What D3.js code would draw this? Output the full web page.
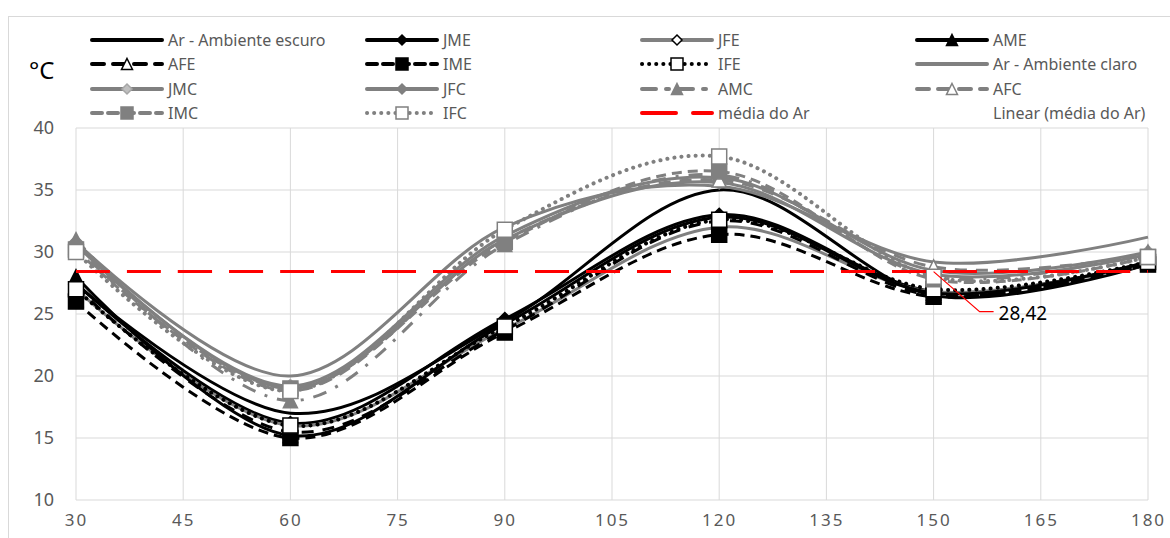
<!DOCTYPE html>
<html>
<head>
<meta charset="utf-8">
<script src="https://cdn.jsdelivr.net/npm/d3@7"></script>
<style>
  body { margin: 0; background: #fff; }
  svg text { font-family: "Noto Sans", "Open Sans", sans-serif; }
</style>
</head>
<body>
<div id="chart"></div>
<script>
// data
var minutes = [30, 60, 90, 120, 150, 180];
var arEscuro = [27.4, 17.0, 24.4, 35.0, 26.5, 29.0];
var jme = [27.5, 16.2, 24.6, 33.0, 26.8, 29.2];
var jfe = [27.0, 16.0, 23.8, 32.0, 26.8, 29.0];
var ame = [28.0, 15.2, 24.2, 32.8, 26.7, 29.2];
var afe = [27.2, 15.5, 23.7, 32.5, 26.5, 29.0];
var ime = [26.0, 15.0, 23.5, 31.4, 26.4, 29.0];
var ife = [27.0, 16.0, 24.0, 32.6, 27.0, 29.2];
var arClaro = [30.8, 20.0, 32.0, 35.3, 29.2, 31.2];
var jmc = [30.6, 19.2, 31.3, 36.0, 28.5, 30.0];
var jfc = [30.8, 19.0, 31.0, 35.6, 28.2, 29.8];
var amc = [31.0, 18.0, 30.6, 36.2, 28.0, 30.0];
var afc = [30.4, 18.8, 31.0, 35.8, 28.8, 29.8];
var imc = [30.2, 19.0, 30.8, 36.5, 27.8, 29.6];
var ifc = [30.0, 18.8, 31.8, 37.7, 28.0, 29.6];
var mediaAr = [28.42, 28.42, 28.42, 28.42, 28.42, 28.42];
var yTicks = [10, 15, 20, 25, 30, 35, 40];
var xTicks = [30, 45, 60, 75, 90, 105, 120, 135, 150, 165, 180];

var BLACK = "#000", GRAY = "#808080", RED = "#ff0000";

var series = [
  {name: "Ar - Ambiente escuro", values: arEscuro, color: BLACK, dash: null, marker: null},
  {name: "JME", values: jme, color: BLACK, dash: null, marker: "diamond", fill: BLACK, mstroke: BLACK},
  {name: "JFE", values: jfe, color: GRAY, dash: null, marker: "diamond", fill: "#fff", mstroke: BLACK},
  {name: "AME", values: ame, color: BLACK, dash: null, marker: "triangle", fill: BLACK, mstroke: BLACK},
  {name: "AFE", values: afe, color: BLACK, dash: "12,9", marker: "triangle", fill: "#fff", mstroke: BLACK},
  {name: "IME", values: ime, color: BLACK, dash: "10,6", marker: "square", fill: BLACK, mstroke: BLACK},
  {name: "IFE", values: ife, color: BLACK, dash: "0.1,7", cap: "round", marker: "square", fill: "#fff", mstroke: BLACK},
  {name: "Ar - Ambiente claro", values: arClaro, color: GRAY, dash: null, marker: null},
  {name: "JMC", values: jmc, color: GRAY, dash: null, marker: "diamond", fill: "#bfbfbf", mstroke: "#a6a6a6"},
  {name: "JFC", values: jfc, color: GRAY, dash: null, marker: "diamond", fill: GRAY, mstroke: GRAY},
  {name: "AMC", values: amc, color: GRAY, dash: "14,10,3,10", marker: "triangle", fill: GRAY, mstroke: GRAY},
  {name: "AFC", values: afc, color: GRAY, dash: "12,9", marker: "triangle", fill: "#fff", mstroke: GRAY},
  {name: "IMC", values: imc, color: GRAY, dash: "10,6", marker: "square", fill: GRAY, mstroke: GRAY},
  {name: "IFC", values: ifc, color: GRAY, dash: "0.1,7", cap: "round", marker: "square", fill: "#fff", mstroke: GRAY},
  {name: "média do Ar", values: mediaAr, color: RED, dash: "34,17", marker: null},
  {name: "Linear (média do Ar)", values: null, color: "none", dash: null, marker: null}
];

var W = 1170, H = 538;
var svg = d3.select("#chart").append("svg")
  .attr("width", W).attr("height", H);

// outer chart border
svg.append("rect")
  .attr("x", 8.5).attr("y", 16.5).attr("width", 1170).attr("height", 540)
  .attr("fill", "none").attr("stroke", "#d9d9d9");

var x = d3.scaleLinear().domain([30, 180]).range([76, 1148]);
var y = d3.scaleLinear().domain([10, 40]).range([500, 128]);

// gridlines
svg.append("g").selectAll("line.h").data(yTicks).enter().append("line")
  .attr("x1", x(30)).attr("x2", x(180))
  .attr("y1", function(d) { return y(d); }).attr("y2", function(d) { return y(d); })
  .attr("stroke", "#d9d9d9").attr("stroke-width", 1);
svg.append("g").selectAll("line.v").data(xTicks).enter().append("line")
  .attr("x1", function(d) { return x(d); }).attr("x2", function(d) { return x(d); })
  .attr("y1", y(10)).attr("y2", y(40))
  .attr("stroke", "#d9d9d9").attr("stroke-width", 1);

// axes labels
var yAxis = svg.append("g").attr("transform", "translate(" + x(30) + ",0)")
  .call(d3.axisLeft(y).tickValues(yTicks).tickSize(0).tickPadding(22));
yAxis.select(".domain").remove();
yAxis.selectAll("text").attr("font-size", 18).attr("fill", "#595959")
  .style("font-family", "'Noto Sans', sans-serif");

var xAxis = svg.append("g").attr("transform", "translate(0," + y(10) + ")")
  .call(d3.axisBottom(x).tickValues(xTicks).tickSize(0).tickPadding(14));
xAxis.select(".domain").remove();
xAxis.selectAll("text").attr("font-size", 17).attr("fill", "#595959")
  .attr("letter-spacing", 2)
  .style("font-family", "'Noto Sans', sans-serif");

svg.append("text").attr("x", 29).attr("y", 79).attr("font-size", 24)
  .attr("fill", "#000").text("°C");

var line = d3.line()
  .curve(d3.curveCardinal.tension(0))
  .x(function(d, i) { return x(minutes[i]); })
  .y(function(d) { return y(d); });

function markerPath(type, size) {
  var s = size / 2;
  if (type === "square") return "M" + (-s) + "," + (-s) + "h" + size + "v" + size + "h" + (-size) + "Z";
  if (type === "diamond") return "M0," + (-s) + "L" + s + ",0L0," + s + "L" + (-s) + ",0Z";
  if (type === "triangle") return "M0," + (-s) + "L" + s + "," + s + "L" + (-s) + "," + s + "Z";
  return "";
}
var markerSize = {square: 15, diamond: 13, triangle: 14};

series.forEach(function(s) {
  if (!s.values) return;
  svg.append("path").datum(s.values)
    .attr("d", line)
    .attr("fill", "none")
    .attr("stroke", s.color)
    .attr("stroke-width", s.cap ? 4 : 3)
    .attr("stroke-linecap", s.cap || "butt")
    .attr("stroke-dasharray", s.dash);
  if (s.marker) {
    svg.append("g").selectAll("path").data(s.values).enter().append("path")
      .attr("transform", function(d, i) { return "translate(" + x(minutes[i]) + "," + y(d) + ")"; })
      .attr("d", markerPath(s.marker, markerSize[s.marker]))
      .attr("fill", s.fill)
      .attr("stroke", s.mstroke)
      .attr("stroke-width", 1.5);
  }
});

// data label for the mean
var lp = [x(150), y(mediaAr[4])];
svg.append("path")
  .attr("d", "M" + lp[0] + "," + lp[1] + "L" + (lp[0] + 46) + "," + (lp[1] + 40) + "h14")
  .attr("fill", "none").attr("stroke", RED).attr("stroke-width", 1.2);
svg.append("text").attr("x", lp[0] + 65).attr("y", lp[1] + 48)
  .attr("font-size", 19).attr("fill", "#000").text(mediaAr[4].toFixed(2).replace(".", ","));

// legend: 4 columns x 4 rows
var colX = [90, 365, 640, 915], rowY = [40, 64, 89, 113];
var leg = svg.append("g");
series.forEach(function(s, i) {
  var cx = colX[i % 4], cy = rowY[Math.floor(i / 4)];
  var g = leg.append("g").attr("transform", "translate(" + cx + "," + cy + ")");
  if (s.values) {
    g.append("line").attr("x1", 2).attr("x2", 72).attr("y1", 0).attr("y2", 0)
      .attr("stroke", s.color).attr("stroke-width", 4)
      .attr("stroke-linecap", "round")
      .attr("stroke-dasharray", s.dash);
    if (s.marker) {
      g.append("path").attr("transform", "translate(37,0)")
        .attr("d", markerPath(s.marker, markerSize[s.marker] - 3))
        .attr("fill", s.fill).attr("stroke", s.mstroke).attr("stroke-width", 1.5);
    }
  }
  g.append("text").attr("x", 78).attr("y", 5.5).attr("font-size", 16)
    .attr("fill", "#595959").text(s.name);
});
</script>
</body>
</html>
